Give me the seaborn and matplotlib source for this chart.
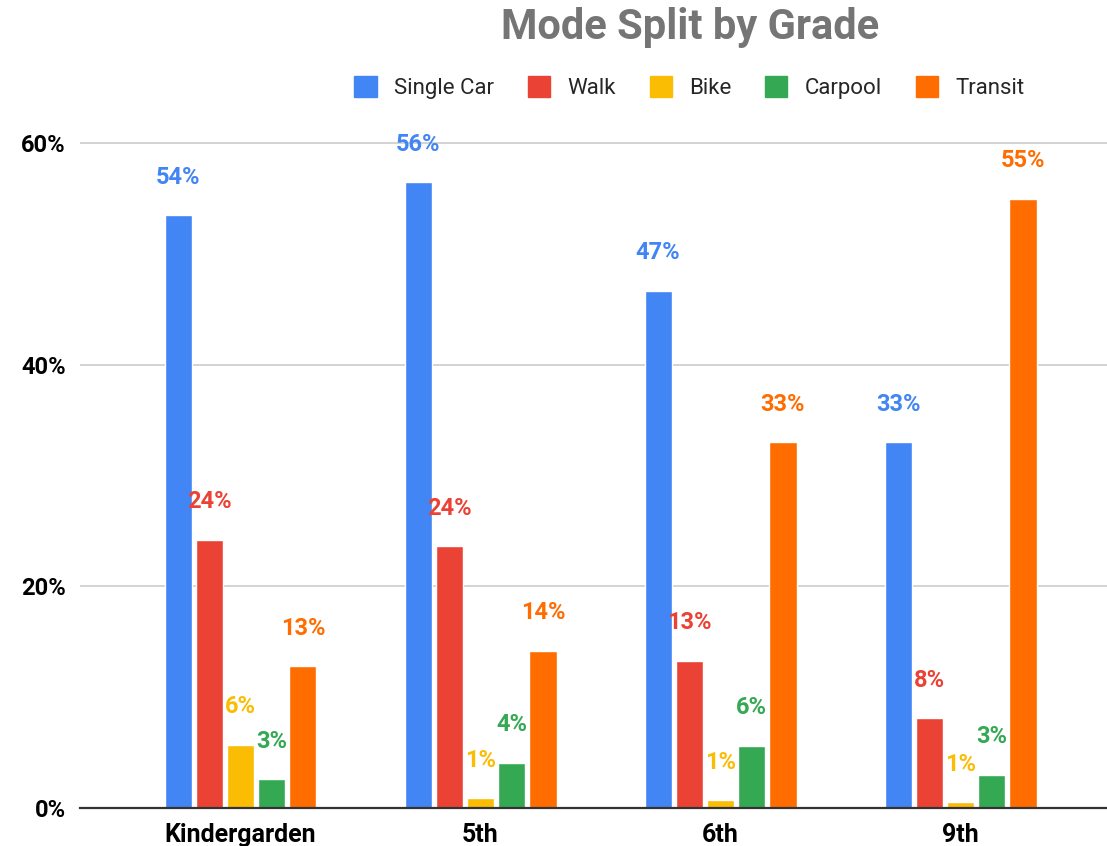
import matplotlib
matplotlib.use("Agg")
import matplotlib.pyplot as plt
import seaborn as sns
import pandas as pd
from matplotlib.ticker import PercentFormatter
from matplotlib.patches import Patch

grades = ["Kindergarden", "5th", "6th", "9th"]
modes = ["Single Car", "Walk", "Bike", "Carpool", "Transit"]
single_car = [0.535, 0.565, 0.467, 0.330]
walk = [0.242, 0.236, 0.133, 0.081]
bike = [0.057, 0.009, 0.007, 0.005]
carpool = [0.026, 0.041, 0.056, 0.030]
transit = [0.128, 0.142, 0.330, 0.550]
labels = {
    "Single Car": ["54%", "56%", "47%", "33%"],
    "Walk": ["24%", "24%", "13%", "8%"],
    "Bike": ["6%", "1%", "1%", "1%"],
    "Carpool": ["3%", "4%", "6%", "3%"],
    "Transit": ["13%", "14%", "33%", "55%"],
}
colors = ["#4285F4", "#EA4335", "#FBBC04", "#34A853", "#FF6D01"]

series = {"Single Car": single_car, "Walk": walk, "Bike": bike,
          "Carpool": carpool, "Transit": transit}
rows = []
for m in modes:
    for g, v in zip(grades, series[m]):
        rows.append({"Grade": g, "Mode": m, "Share": v})
df = pd.DataFrame(rows)

sns.set_theme(style="white")
plt.rcParams["font.family"] = ["Roboto", "DejaVu Sans"]

fig = plt.figure(figsize=(11.07, 8.46), dpi=100)
ax = fig.add_axes([0.072, 0.045, 0.928, 0.812])

sns.barplot(data=df, x="Grade", y="Share", hue="Mode", order=grades,
            hue_order=modes, palette=colors, width=0.65, gap=0.13,
            saturation=1, ax=ax, legend=False, zorder=3)

for cont, m, c in zip(ax.containers, modes, colors):
    ax.bar_label(cont, labels=labels[m], padding=19, color=c,
                 fontsize=17, fontweight="bold")

ax.set_ylim(0, 0.62)
ax.set_xlim(-0.67, 3.61)
ax.set_yticks([0, 0.2, 0.4, 0.6])
ax.yaxis.set_major_formatter(PercentFormatter(1.0, decimals=0))
ax.grid(axis="y", color="#cccccc", linewidth=1.2, zorder=0)
ax.set_axisbelow(True)
for s in ["left", "right", "top"]:
    ax.spines[s].set_visible(False)
ax.spines["bottom"].set_color("#333333")
ax.spines["bottom"].set_linewidth(1.6)
ax.spines["bottom"].set_zorder(4)
ax.tick_params(axis="y", length=0, pad=10, labelsize=17)
ax.tick_params(axis="x", length=0, pad=11, labelsize=18)
for t in ax.get_yticklabels() + ax.get_xticklabels():
    t.set_fontweight("bold")
    t.set_color("black")
ax.set_xlabel("")
ax.set_ylabel("")

fig.text(0.623, 0.967, "Mode Split by Grade", ha="center", va="center",
         fontsize=30, fontweight="bold", color="#757575")

handles = [Patch(facecolor=c, edgecolor=c) for c in colors]
fig.legend(handles, modes, loc="center", bbox_to_anchor=(0.623, 0.897),
           ncol=5, frameon=False, fontsize=16, handlelength=1.0,
           handleheight=1.1, columnspacing=1.5, handletextpad=0.8)

fig.savefig("out.png", dpi=100)
